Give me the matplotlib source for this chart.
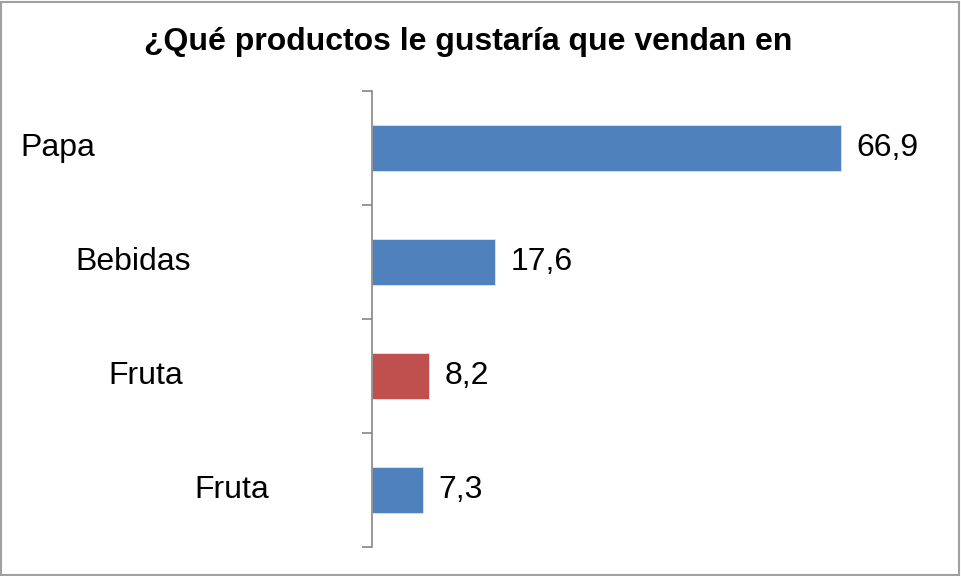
import matplotlib.pyplot as plt
from matplotlib.transforms import blended_transform_factory

plt.rcParams['font.family'] = ['Liberation Sans', 'DejaVu Sans']

title = "¿Qué productos le gustaría que vendan en"
categories = ["Papa", "Bebidas", "Fruta", "Fruta"]
values = [66.9, 17.6, 8.2, 7.3]
value_labels = ["66,9", "17,6", "8,2", "7,3"]
colors = ["#4F81BD", "#4F81BD", "#C0504D", "#4F81BD"]
# left edge of each category label in figure pixels (staggered as in the original)
label_x = [20, 75, 108, 194]

W, H = 961, 576
fig = plt.figure(figsize=(W / 100, H / 100), dpi=100)

# axes: left spine at x=372, from y=91 to y=547
left, top, bottom = 372, 91, 547
xmax = 80
px_per_unit = 7.01
ax = fig.add_axes([left / W, 1 - bottom / H, xmax * px_per_unit / W, (bottom - top) / H])

ypos = list(range(len(categories)))
ax.barh(ypos, values, height=0.4, color=colors, edgecolor="#DCE6F2", linewidth=0.6)
ax.set_ylim(len(categories) - 0.5, -0.5)
ax.set_xlim(0, xmax)

for y, v, lab in zip(ypos, values, value_labels):
    ax.annotate(lab, (v, y), xytext=(11, 0), textcoords="offset points",
                va="center", ha="left", fontsize=23, color="black")

trans = blended_transform_factory(fig.transFigure, ax.transData)
for y, cat, lx in zip(ypos, categories, label_x):
    ax.text(lx / W, y, cat, transform=trans, va="center", ha="left",
            fontsize=23, color="black")

ax.set_yticks([i - 0.5 for i in range(len(categories) + 1)])
ax.set_yticklabels([])
ax.tick_params(axis="y", direction="out", length=7, width=1.2, color="#868686")
ax.set_xticks([])
for s in ["top", "right", "bottom"]:
    ax.spines[s].set_visible(False)
ax.spines["left"].set_color("#868686")
ax.spines["left"].set_linewidth(1.2)

fig.text(468 / W, 1 - 42 / H, title, ha="center", va="center",
         fontsize=23, fontweight="bold")

# outer chart border
border = plt.Rectangle((1 / W, 1 / H), (W - 3) / W, (H - 3) / H, transform=fig.transFigure,
                       fill=False, edgecolor="#A0A0A0", linewidth=1.5)
fig.add_artist(border)

fig.savefig("out.png", dpi=100)
